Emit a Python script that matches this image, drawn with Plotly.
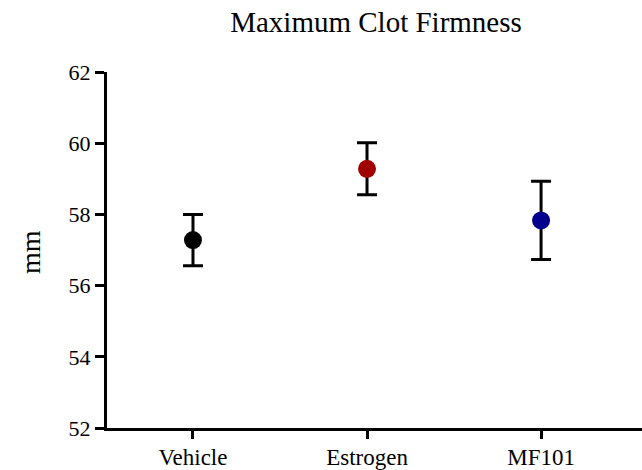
import plotly.graph_objects as go

# Group means and error bars (mm)
groups = ["Vehicle", "Estrogen", "MF101"]
means = [57.28, 59.28, 57.83]
errors = [0.72, 0.73, 1.10]
colors = ["#000000", "#a00000", "#00008c"]
y_ticks = [52, 54, 56, 58, 60, 62]

fig = go.Figure()
for g, m, e, c in zip(groups, means, errors, colors):
    fig.add_trace(go.Scatter(
        x=[g], y=[m],
        mode="markers",
        marker=dict(color=c, size=18, line=dict(width=0)),
        error_y=dict(type="data", array=[e], visible=True,
                     color="#000000", thickness=3, width=10),
        showlegend=False,
    ))

font_family = "Liberation Serif"

fig.update_layout(
    width=642, height=470,
    margin=dict(l=107, r=0, t=72, b=40),
    paper_bgcolor="white", plot_bgcolor="white",
    font=dict(family=font_family, size=22, color="#000000"),
    title=dict(text="Maximum Clot Firmness", x=376 / 642, xanchor="center",
               y=1 - 22 / 470, yanchor="middle",
               font=dict(family=font_family, size=29, color="#000000")),
)
fig.update_xaxes(
    type="category", range=[-0.494, 2.58],
    showline=True, linecolor="#000000", linewidth=3,
    ticks="outside", ticklen=8, tickwidth=3, tickcolor="#000000",
    showgrid=False, zeroline=False,
    tickfont=dict(size=23), ticklabelstandoff=-2,
)
fig.update_yaxes(
    range=[52, 62], tickvals=y_ticks,
    showline=True, linecolor="#000000", linewidth=3,
    ticks="outside", ticklen=9, tickwidth=3, tickcolor="#000000",
    showgrid=False, zeroline=False,
    tickfont=dict(size=22),
)
fig.add_annotation(
    text="mm", xref="paper", yref="paper",
    x=(31 - 107) / 535, y=(430 - 253) / 358,
    xanchor="center", yanchor="middle", textangle=-90, showarrow=False,
    font=dict(family=font_family, size=28, color="#000000"),
)

fig.write_html("out.html")
